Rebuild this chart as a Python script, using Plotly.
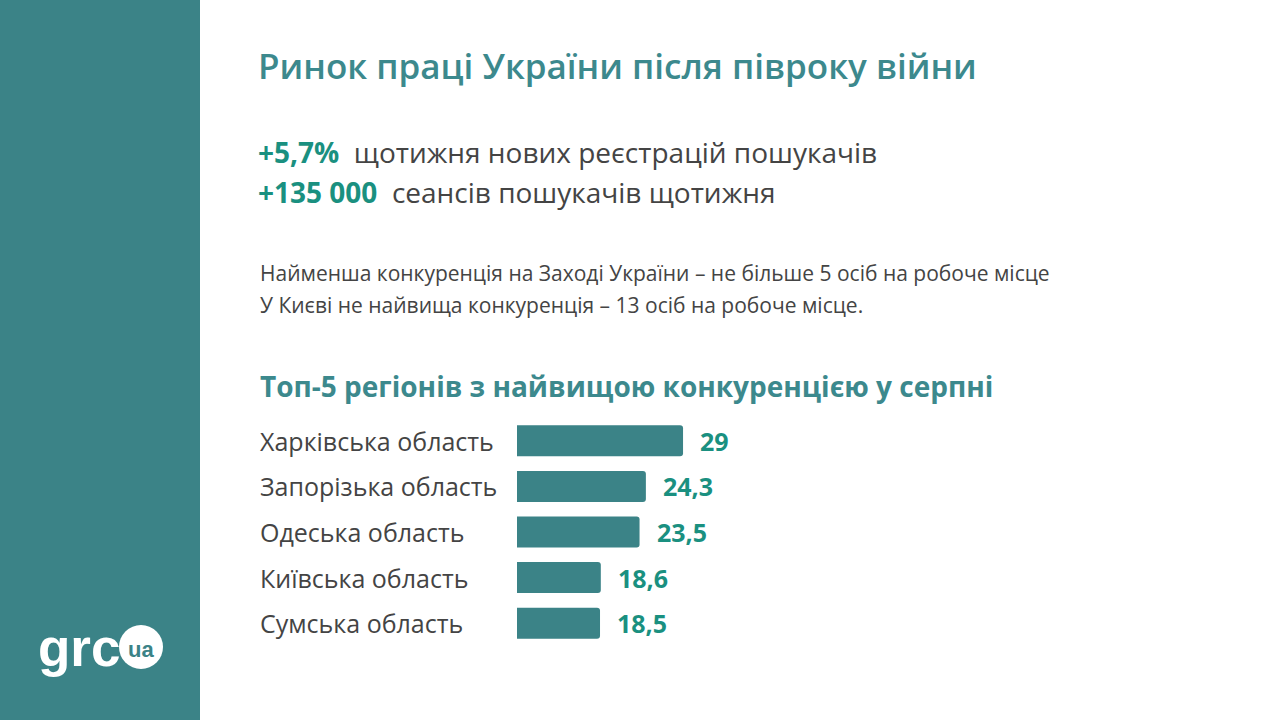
import plotly.graph_objects as go

# ---- data ----
regions = ["Харківська область", "Запорізька область", "Одеська область",
           "Київська область", "Сумська область"]
values = [29, 24.3, 23.5, 18.6, 18.5]
value_labels = ["29", "24,3", "23,5", "18,6", "18,5"]

title_text = "Ринок праці України після півроку війни"
stat_values = ["+5,7%", "+135 000"]
stat_texts = ["щотижня нових реєстрацій пошукачів", "сеансів пошукачів щотижня"]
note_lines = ["Найменша конкуренція на Заході України – не більше 5 осіб на робоче місце",
              "У Києві не найвища конкуренція – 13 осіб на робоче місце."]
chart_title = "Топ-5 регіонів з найвищою конкуренцією у серпні"

W, H = 1280, 720
TEAL = "#3B8387"
TITLE_TEAL = "#3C898D"
VAL_TEAL = "#1A9080"
GREY = "#444444"
FONT = "Open Sans"


def px(x):
    return x / W


def py(y):
    return 1 - y / H


fig = go.Figure()
fig.add_trace(go.Bar(
    x=values, y=regions, orientation="h",
    marker=dict(color=TEAL, line=dict(width=0)),
    hoverinfo="skip",
))

annotations = []
# title
annotations.append(dict(x=px(256), y=py(65), xref="paper", yref="paper", xanchor="left",
                        yanchor="middle", showarrow=False, text=title_text,
                        font=dict(family=FONT, size=35, color=TITLE_TEAL, weight=600)))
# stats
for i, (v, t) in enumerate(zip(stat_values, stat_texts)):
    yy = 152 + 40 * i
    annotations.append(dict(
        x=px(256), y=py(yy), xref="paper", yref="paper", xanchor="left", yanchor="middle",
        showarrow=False,
        text=f"<span style='color:{VAL_TEAL}'><b>{v}</b></span>&nbsp;&nbsp;{t}",
        font=dict(family=FONT, size=28, color=GREY)))
# notes
for i, t in enumerate(note_lines):
    annotations.append(dict(
        x=px(258), y=py(273 + 32 * i), xref="paper", yref="paper", xanchor="left",
        yanchor="middle", showarrow=False, text=t,
        font=dict(family=FONT, size=21, color=GREY)))
# chart title
annotations.append(dict(x=px(258), y=py(386), xref="paper", yref="paper", xanchor="left",
                        yanchor="middle", showarrow=False, text=f"<b>{chart_title}</b>",
                        font=dict(family=FONT, size=28, color=TITLE_TEAL)))
# category labels and value labels
for r, v, lab in zip(regions, values, value_labels):
    annotations.append(dict(x=px(258), y=r, xref="paper", yref="y", xanchor="left",
                            yanchor="middle", showarrow=False, text=r,
                            font=dict(family=FONT, size=25, color=GREY)))
    annotations.append(dict(x=v, y=r, xref="x", yref="y", xanchor="left", yanchor="middle",
                            xshift=15, showarrow=False, text=f"<b>{lab}</b>",
                            font=dict(family=FONT, size=25, color=VAL_TEAL)))
# logo
annotations.append(dict(x=px(36), y=py(647), xref="paper", yref="paper", xanchor="left",
                        yanchor="middle", showarrow=False, text="<b>grc</b>",
                        font=dict(family="Liberation Sans", size=53, color="white")))
annotations.append(dict(x=px(141), y=py(649), xref="paper", yref="paper", xanchor="center",
                        yanchor="middle", showarrow=False, text="<b>ua</b>",
                        font=dict(family="Liberation Sans", size=22, color=TEAL)))

shapes = [
    dict(type="rect", xref="paper", yref="paper", x0=0, x1=px(200), y0=0, y1=1,
         fillcolor=TEAL, line=dict(width=0), layer="below"),
    dict(type="circle", xref="paper", yref="paper", x0=px(119), x1=px(163),
         y0=py(669), y1=py(625), fillcolor="white", line=dict(width=0)),
]

fig.update_layout(
    width=W, height=H,
    margin=dict(l=0, r=0, t=0, b=0),
    paper_bgcolor="white", plot_bgcolor="white",
    showlegend=False,
    bargap=0.32,
    barcornerradius=3,
    xaxis=dict(domain=[px(517), 1], range=[8, 104.5], visible=False, fixedrange=True),
    yaxis=dict(domain=[py(646), py(418)], autorange="reversed", visible=False,
               fixedrange=True),
    annotations=annotations,
    shapes=shapes,
)

fig.write_html("out.html", config={"displayModeBar": False},
               post_script="document.body.style.margin='0';document.body.style.overflow='hidden';")
